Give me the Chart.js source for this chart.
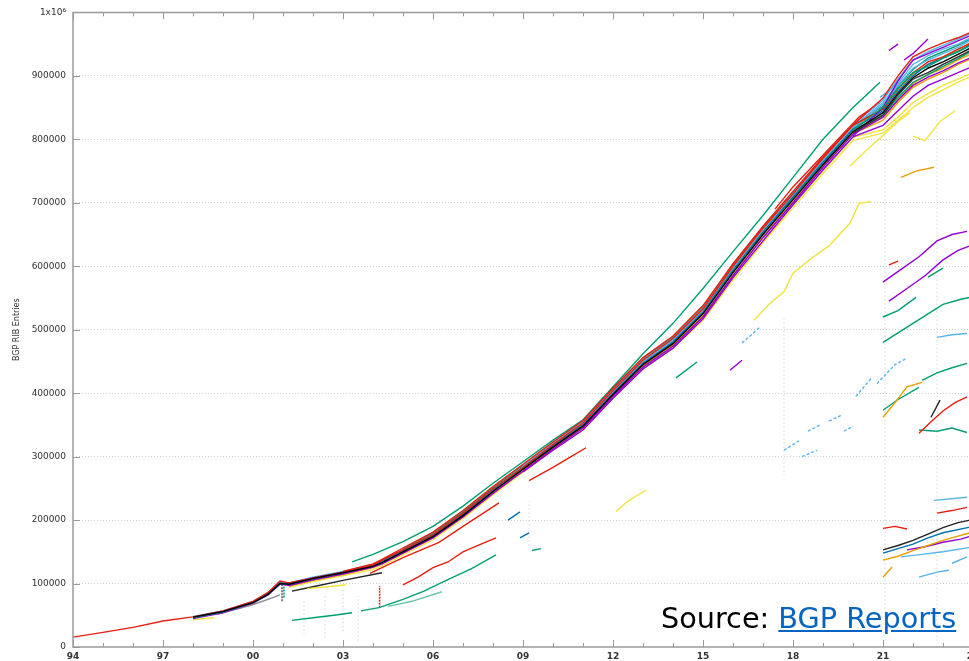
<!DOCTYPE html>
<html>
<head>
<meta charset="utf-8">
<title>BGP RIB Entries</title>
<script src="https://cdn.jsdelivr.net/npm/chart.js@4.4.1/dist/chart.umd.min.js"></script>
<style>
  html, body { margin: 0; padding: 0; background: #fff; overflow: hidden; width: 969px; height: 661px; }
  #wrap { position: relative; width: 969px; height: 661px; overflow: hidden; }
  #c { position: absolute; left: 0; top: 0; }
  #src { position: absolute; left: 661px; top: 601px; font-family: "DejaVu Sans", sans-serif; font-size: 28.7px;
         line-height: 1.2; color: #000; white-space: nowrap; }
  #src a { color: #0563c1; text-decoration: underline; }
</style>
</head>
<body>
<div id="wrap">
  <canvas id="c" width="1000" height="661"></canvas>
  <div id="src">Source: <a href="#">BGP Reports</a></div>
</div>
<script>
// All table sizes are in thousands of RIB entries.
const K = 1000;
const _ = null;

// Shared time grid for the main group of peers (decimal years)
const gridYears = [1994,1995,1996,1997,1998,1999,2000,2000.5,2000.9,2001.2,2002,2003,2004,2004.3,2005,2006,2007,2008,2009,2010,2011,2012,2013,2014,2015,2016,2017,2018,2019,2020,2021,2021.5,2022,2022.5,2023,2023.5,2024];

// Main bundle of peers
const peerRed     = [15.5,23,31,41,47.5,57,72,86,104,101,109,118,129,137,153,177,211,249,283,319,353,404,452,486,533,600,660,714,770,822,848,880,905,922,930,942,953];
const peerGreen   = [_,_,_,_,46,55,70,83,100,99,108,117,128,134,151,175,208,246,281,316,349,399,446,480,527,592,652,708,762,815,838,866,890,902,915,927,940];
const peerSky     = [_,_,_,_,48,57,72,85,101,101,110,119,130,136,153,177,210,248,284,319,352,403,450,484,532,598,658,713,767,818,855,885,912,925,935,945,958];
const peerPurple  = [_,_,_,_,45,54,69,82,99,97,106,115,126,131,148,172,205,242,277,312,345,395,441,474,520,585,645,700,756,808,835,862,885,898,908,920,930];
const peerBlue    = [_,_,_,_,47,56,71,84,101,100,109,118,128,135,152,176,209,247,282,317,350,400,447,481,528,594,654,709,764,816,845,875,900,918,928,938,952];
const peerOrange  = [_,_,_,_,_,_,_,_,_,96,105,114,125,131,148,172,205,243,278,313,346,396,443,476,522,586,646,702,757,809,830,858,882,895,905,918,928];
const peerYellow  = [_,_,_,_,_,_,_,_,_,94,103,112,122,128,145,169,202,240,275,310,343,392,438,471,516,580,640,696,750,803,815,835,858,872,885,895,905];
const peerBlack   = [_,_,_,_,47,56,70,83,100,99,108,117,127,133,150,174,207,245,280,315,348,398,445,478,525,590,650,705,760,812,842,872,897,912,922,934,946];
const peerRed2    = [_,_,_,_,_,_,_,_,_,_,_,119,131,138,156,181,215,253,288,323,357,408,456,490,538,604,663,718,772,823,865,900,930,942,952,960,970];
const peerGreen2  = [_,_,_,_,_,_,_,_,_,_,_,_,_,_,155,179,213,251,286,321,355,406,454,488,536,603,662,716,771,822,852,884,910,928,938,948,960];
const peerPurple2 = [_,_,_,_,_,_,_,_,_,_,_,_,_,_,_,_,_,_,276,310,342,392,438,471,517,582,640,697,752,804,822,845,868,885,895,905,915];
const peerSky2    = [_,_,_,_,_,_,_,_,_,_,_,_,_,_,_,_,_,_,285,321,355,405,453,487,535,601,661,716,771,823,862,895,925,938,948,958,968];
const peerOrange2 = [_,_,_,_,_,_,_,_,_,_,_,_,_,_,_,_,_,_,_,_,_,402,450,484,531,597,657,712,766,818,848,878,903,918,930,940,955];
const peerYellow2 = [_,_,_,_,_,_,_,_,_,_,_,_,_,_,_,_,_,_,_,311,343,392,439,471,515,578,637,692,746,798,810,830,850,866,878,890,900];
const peerBlack2  = [_,_,_,_,_,_,_,_,_,_,_,_,_,_,_,_,_,_,_,_,_,_,_,_,_,_,_,_,_,810,838,870,895,905,918,930,942];
const peerGreen3  = [_,_,_,_,_,_,_,_,_,_,_,_,_,_,_,_,_,_,_,_,_,_,_,_,_,_,_,_,_,815,850,880,905,915,928,938,950];
const peerPurple3 = [_,_,_,_,_,_,_,_,_,_,_,_,_,_,_,_,_,_,_,_,_,_,_,_,_,_,_,_,_,805,850,892,925,935,945,955,965];
const peerOrange3 = [_,_,_,_,_,_,_,_,_,_,_,_,_,_,_,_,_,_,_,_,_,_,_,_,_,_,_,_,_,812,835,862,888,902,912,925,936];
const peerSky3    = [_,_,_,_,_,_,_,_,_,_,_,_,_,_,_,_,_,_,_,_,_,_,_,_,_,_,_,_,_,820,858,888,918,932,942,950,962];

// Peers that sit apart from the bundle: [year, thousands]
const upperGreen  = [[2003.3,134],[2004,146],[2005,166],[2006,190],[2007,222],[2008,258],[2009,292],[2010,326],[2011,358],[2012,410],[2013,462],[2014,510],[2015,565],[2016,623],[2017,680],[2018,740],[2019,800],[2020,850],[2020.9,890]];
const upperRed    = [[2017.4,690],[2018,725],[2018.8,765],[2019.5,800],[2020.2,835],[2020.9,858]];
const upperSky    = [[2020.9,866],[2021.3,880],[2021.6,898]];
const lowYellowA  = [[2016.7,515],[2017.2,540],[2017.7,560],[2018,589],[2018.6,612],[2019.2,632],[2019.9,668],[2020.2,699],[2020.6,702]];
const lowYellowB  = [[2019.9,758],[2020.5,785],[2021,806],[2021.5,828],[2021.9,842]];
const lowYellowC  = [[2022.0,805],[2022.4,798],[2022.9,828],[2023.4,845]];
const redBelowA   = [[2003.9,116],[2005,141],[2006.2,165],[2007,190],[2008.2,227]];
const redBelowB   = [[2009.2,262],[2010,283],[2010.6,300],[2011.1,314]];
const redLow      = [[2005,98],[2005.5,110],[2006,125],[2006.5,134],[2007,150],[2007.5,160],[2008.1,172]];
const greenLowA   = [[2001.3,42],[2002,46],[2002.7,50],[2003.3,54]];
const greenLowB   = [[2003.6,57],[2004.2,62],[2005,75],[2005.7,88],[2006.3,102],[2007.3,124],[2008.1,145]];
const greenLowC   = [[2004.5,64],[2005.3,72],[2006.3,87]];
const blackLow    = [[2001.3,88],[2002,95],[2003,105],[2004.3,117]];
const grayLow     = [[1998.8,52],[1999.5,60],[2000,67],[2000.5,75],[2000.9,82]];
const yellowLowA  = [[1998,43],[1998.7,46]];
const yellowLowB  = [[2001.8,92],[2002.5,95],[2003.1,98]];
const blueBitA    = [[2008.5,200],[2008.9,213]];
const blueBitB    = [[2008.9,172],[2009.2,180]];
const greenBit    = [[2009.3,152],[2009.6,155]];
const yellowMid   = [[2012.1,213],[2012.5,230],[2013.1,247]];
const greenMid    = [[2014.1,424],[2014.8,449]];
const purpleMid   = [[2015.9,436],[2016.3,452]];
const skyMid      = [[2016.3,479],[2016.9,504]];
const skyChainA   = [[2017.7,310],[2018.2,325]];
const skyChainB   = [[2018.3,300],[2018.8,310]];
const skyChainC   = [[2018.5,340],[2018.9,350]];
const skyChainD   = [[2019.2,356],[2019.6,365]];
const skyChainE   = [[2019.7,340],[2020.0,348]];
const skyChainF   = [[2020.1,395],[2020.6,423]];
const skyChainG   = [[2020.8,415],[2021.4,445],[2021.8,455]];

// Peers seen since 2021 with partial tables
const purpleA     = [[2021,575],[2021.6,595],[2022.2,615],[2022.8,640],[2023.3,650],[2023.8,655]];
const purpleB     = [[2021.2,545],[2021.8,565],[2022.4,585],[2023,610],[2023.5,625],[2023.9,632]];
const purpleTopA  = [[2021.2,940],[2021.5,950]];
const purpleTopB  = [[2021.7,925],[2022.0,935],[2022.5,958]];
const greenA      = [[2021,520],[2021.5,530],[2022.1,551]];
const greenB      = [[2021,480],[2021.5,495],[2022,510],[2022.5,525],[2023,540],[2023.6,548],[2024,552]];
const greenC      = [[2022.5,583],[2023,597]];
const greenD      = [[2022.3,420],[2022.8,432],[2023.3,440],[2023.8,447]];
const greenE      = [[2021,373],[2021.5,390],[2022.2,409]];
const greenF      = [[2022.2,342],[2022.8,340],[2023.3,345],[2023.8,338]];
const orangeA     = [[2021,362],[2021.4,385],[2021.8,410],[2022.3,417]];
const orangeTop   = [[2021.6,740],[2022.1,750],[2022.7,756]];
const skyA        = [[2022.8,488],[2023.3,492],[2023.8,494]];
const redA        = [[2022.2,337],[2022.6,355],[2023,372],[2023.4,385],[2023.8,394]];
const redTop      = [[2021.2,602],[2021.5,608]];
const blackA      = [[2022.6,362],[2022.9,389]];
const redFlat     = [[2021,187],[2021.4,190],[2021.8,186]];
const blackLowR   = [[2021,153],[2021.5,160],[2022,168],[2022.5,178],[2023,188],[2023.5,196],[2023.9,200]];
const blueLowR    = [[2021,148],[2021.5,155],[2022,162],[2022.5,172],[2023,180],[2023.9,189]];
const orangeLowR  = [[2021,137],[2021.5,143],[2022,152],[2022.5,160],[2023,168],[2023.9,180]];
const purpleLowR  = [[2021.8,153],[2022.4,158],[2023,165],[2023.6,170],[2024,176]];
const skyLowA     = [[2021.6,142],[2022.3,146],[2023,150],[2023.9,157]];
const skyLowB     = [[2022.2,110],[2022.8,118],[2023.2,121]];
const skyLowC     = [[2023.3,132],[2023.8,142]];
const orangeLow2  = [[2021,110],[2021.3,126]];
const redLowR     = [[2022.8,211],[2023.3,215],[2023.8,220]];
const skyLowD     = [[2022.7,231],[2023.8,236]];

// Short bursts and collection gaps (vertical runs of samples)
const burst2001Gray  = [[2000.97,72],[2000.97,100]];
const burst2001Green = [[2001.03,78],[2001.03,96]];
const burst2004Red   = [[2004.22,62],[2004.22,96]];
const faintRuns = [
  [[2001.7,20],[2001.7,75]], [[2002.4,15],[2002.4,85]], [[2003.0,25],[2003.0,90]],
  [[2003.5,10],[2003.5,80]], [[2009.2,160],[2009.2,230]], [[2012.5,305],[2012.5,415]],
  [[2017.7,270],[2017.7,520]], [[2021.07,10],[2021.07,900]], [[2022.8,10],[2022.8,940]]
];

const C = { purple:'#9400d3', green:'#009e73', sky:'#56b4e9', orange:'#e69f00',
            yellow:'#f0e442', blue:'#0072b2', red:'#e51e10', black:'#000000', gray:'#7f7f7f' };

function onGrid(values) {
  return gridYears.map((yr, i) => ({ x: yr, y: values[i] == null ? null : values[i] * K }))
                  .filter(p => p.y !== null);
}
function fromPairs(...segments) {
  const out = [];
  segments.forEach((seg, j) => {
    if (j) out.push({ x: seg[0][0], y: null });
    seg.forEach(p => out.push({ x: p[0], y: p[1] * K }));
  });
  return out;
}
function line(data, color, extra) {
  return Object.assign({ data, borderColor: color, backgroundColor: color, borderWidth: 1.4,
    pointRadius: 0, fill: false, tension: 0, spanGaps: false }, extra || {});
}

// listed bottom layer first
const layers = [
  line(fromPairs(...faintRuns), 'rgba(150,150,150,0.55)', { borderWidth: 1, borderDash: [1, 3] }),
  line(fromPairs(burst2001Gray), C.gray, { borderWidth: 2, borderDash: [2, 1] }),
  line(fromPairs(burst2001Green), C.green, { borderWidth: 1.5, borderDash: [2, 1] }),
  line(fromPairs(burst2004Red), C.red, { borderWidth: 1.5, borderDash: [2, 1] }),
  line(fromPairs(greenLowA, greenLowB), C.green),
  line(fromPairs(greenLowC), 'rgba(0,158,115,0.6)'),
  line(fromPairs(redLow, redBelowA, redBelowB), C.red),
  line(fromPairs(blackLow), '#222'),
  line(fromPairs(grayLow), '#8a8a8a'),
  line(fromPairs(yellowLowA, yellowLowB, yellowMid, lowYellowA, lowYellowB, lowYellowC), C.yellow),
  line(fromPairs(blueBitA, blueBitB), C.blue),
  line(fromPairs(greenBit, greenMid), C.green),
  line(fromPairs(purpleMid), C.purple),
  line(fromPairs(skyMid, skyChainA, skyChainB, skyChainC, skyChainD, skyChainE, skyChainF, skyChainG), C.sky, { borderDash: [3, 2] }),
  line(fromPairs(upperGreen), C.green),
  line(fromPairs(upperRed), C.red),
  line(fromPairs(upperSky), C.sky),
  line(onGrid(peerYellow), C.yellow),
  line(onGrid(peerYellow2), C.yellow),
  line(onGrid(peerOrange), C.orange),
  line(onGrid(peerOrange2), C.orange),
  line(onGrid(peerOrange3), C.orange),
  line(onGrid(peerPurple2), C.purple),
  line(onGrid(peerPurple), C.purple),
  line(onGrid(peerGreen), C.green),
  line(onGrid(peerGreen2), C.green),
  line(onGrid(peerSky2), C.sky),
  line(onGrid(peerSky), C.sky),
  line(onGrid(peerSky3), C.sky),
  line(onGrid(peerBlue), C.blue),
  line(onGrid(peerRed2), C.red),
  line(onGrid(peerRed), C.red),
  line(onGrid(peerPurple3), C.purple),
  line(onGrid(peerGreen3), C.green),
  line(onGrid(peerBlack), C.black),
  line(onGrid(peerBlack2), '#333'),
  line(fromPairs(purpleA, purpleB, purpleTopA, purpleTopB, purpleLowR), C.purple),
  line(fromPairs(greenA, greenB, greenC, greenD, greenE, greenF), C.green),
  line(fromPairs(orangeA, orangeTop, orangeLowR, orangeLow2), C.orange),
  line(fromPairs(skyA, skyLowA, skyLowB, skyLowC, skyLowD), C.sky),
  line(fromPairs(redA, redTop, redFlat, redLowR), C.red),
  line(fromPairs(blackA, blackLowR), '#222'),
  line(fromPairs(blueLowR), C.blue)
];

const AXIS = '#9a9a9a';
const TEXT = '#333333';

// gnuplot-style frame with inward ticks on bottom, top and left edges
const framePlugin = {
  id: 'frame',
  afterDatasetsDraw(chart) {
    const { ctx, chartArea: a, scales: { x, y } } = chart;
    ctx.save();
    ctx.strokeStyle = AXIS;
    ctx.lineWidth = 1.5;
    ctx.beginPath();
    ctx.moveTo(a.right, a.top); ctx.lineTo(a.left, a.top);
    ctx.lineTo(a.left, a.bottom); ctx.lineTo(a.right, a.bottom);
    ctx.stroke();
    ctx.lineWidth = 1;
    ctx.beginPath();
    x.ticks.forEach(t => {
      const px = Math.round(x.getPixelForValue(t.value)) + 0.5;
      const len = (Math.round(t.value) - 1994) % 3 === 0 ? 7 : 4;
      ctx.moveTo(px, a.bottom); ctx.lineTo(px, a.bottom - len);
      ctx.moveTo(px, a.top); ctx.lineTo(px, a.top + len);
    });
    y.ticks.forEach(t => {
      const py = Math.round(y.getPixelForValue(t.value)) + 0.5;
      ctx.moveTo(a.left, py); ctx.lineTo(a.left + 7, py);
    });
    ctx.stroke();
    ctx.restore();
  }
};

new Chart(document.getElementById('c'), {
  type: 'line',
  data: { datasets: layers.slice().reverse() },
  options: {
    responsive: false,
    animation: false,
    events: [],
    layout: { padding: { left: 0, right: 27, top: 12, bottom: 0 } },
    plugins: { legend: { display: false }, tooltip: { enabled: false } },
    scales: {
      x: {
        type: 'linear', min: 1994, max: 2024,
        afterFit(s) { s.height = 14; },
        grid: { display: false, drawTicks: false },
        border: { display: false },
        ticks: {
          stepSize: 1, autoSkip: false, maxRotation: 0, padding: 4, color: TEXT,
          font: { family: 'DejaVu Sans', size: 9, weight: 'bold' },
          callback: v => ((Math.round(v) - 1994) % 3 === 0 ? String(Math.round(v) % 100).padStart(2, '0') : '')
        }
      },
      y: {
        min: 0, max: 1000000,
        afterFit(s) { s.width = 73; },
        grid: {
          drawTicks: false,
          color: c => (c.tick.value === 0 || c.tick.value === 1000000) ? 'rgba(0,0,0,0)' : '#cfcfcf',
          lineWidth: 1
        },
        border: { display: false, dash: [1, 2] },
        title: { display: true, text: 'BGP RIB Entries', color: TEXT,
                 font: { family: 'DejaVu Sans', size: 8 }, padding: { top: 12, bottom: 0 } },
        ticks: {
          stepSize: 100000, padding: 7, color: TEXT,
          font: { family: 'DejaVu Sans', size: 9 },
          callback: v => (v === 1000000 ? '1x10\u2076' : String(v))
        }
      }
    }
  },
  plugins: [framePlugin]
});
</script>
</body>
</html>
